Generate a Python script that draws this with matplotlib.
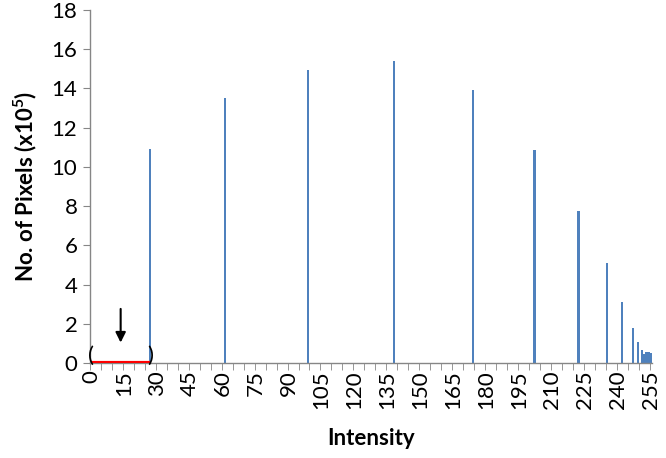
import matplotlib
matplotlib.use("Agg")
import matplotlib.pyplot as plt
import numpy as np

# -----------------------------
# Data
# -----------------------------
intensity = [27, 61, 99, 138, 174, 202, 222, 235, 242, 247, 249, 251, 252, 253, 254, 255]
pixels = [10.9, 13.5, 14.95, 15.4, 13.9, 10.85, 7.75, 5.1, 3.1, 1.8, 1.05,
          0.65, 0.45, 0.55, 0.58, 0.5]
x_labels = list(range(0, 256, 15))
y_ticks = list(range(0, 19, 2))

plt.rcParams["font.family"] = ["Lato", "DejaVu Sans"]
plt.rcParams["mathtext.fontset"] = "custom"
plt.rcParams["mathtext.rm"] = "Lato:bold"
plt.rcParams["mathtext.bf"] = "Lato:bold"

fig = plt.figure(figsize=(6.66, 4.58), dpi=100)
ax = fig.add_axes([0.135, 0.2074, 0.844, 0.7708])

ax.bar(intensity, pixels, width=1.0, color="#4F81BD", zorder=2)

# highlighted low-intensity range
ax.plot([0, 27], [0, 0], color="#FF0000", lw=3, zorder=3, solid_capstyle="butt")
ax.text(0, 0.35, "(", ha="center", va="center", fontsize=16, color="black")
ax.text(27, 0.35, ")", ha="center", va="center", fontsize=16, color="black")
ax.annotate("", xy=(13.5, 0.9), xytext=(13.5, 2.9),
            arrowprops=dict(arrowstyle="-|>", color="black", lw=1.5,
                            mutation_scale=15))

# axes
ax.set_xlim(-0.5, 255.5)
ax.set_ylim(0, 18)
ax.set_yticks(y_ticks)
ax.set_xticks(x_labels)
ax.set_xticklabels([str(v) for v in x_labels], rotation=90)
ax.set_xticks(np.arange(-0.5, 256, 5), minor=True)
ax.tick_params(axis="x", which="major", length=0, pad=5, labelsize=16)
ax.tick_params(axis="x", which="minor", length=5, color="#868686", direction="out")
ax.tick_params(axis="y", length=5, color="#868686", labelsize=16, pad=4)

for s in ["top", "right"]:
    ax.spines[s].set_visible(False)
for s in ["left", "bottom"]:
    ax.spines[s].set_color("#868686")
    ax.spines[s].set_linewidth(1)

ax.set_xlabel("Intensity", fontsize=16, fontweight="bold", labelpad=14)
ax.set_ylabel(r"No. of Pixels (x10$^5$)", fontsize=16, fontweight="bold", labelpad=9)

fig.savefig("out.png", dpi=100)
